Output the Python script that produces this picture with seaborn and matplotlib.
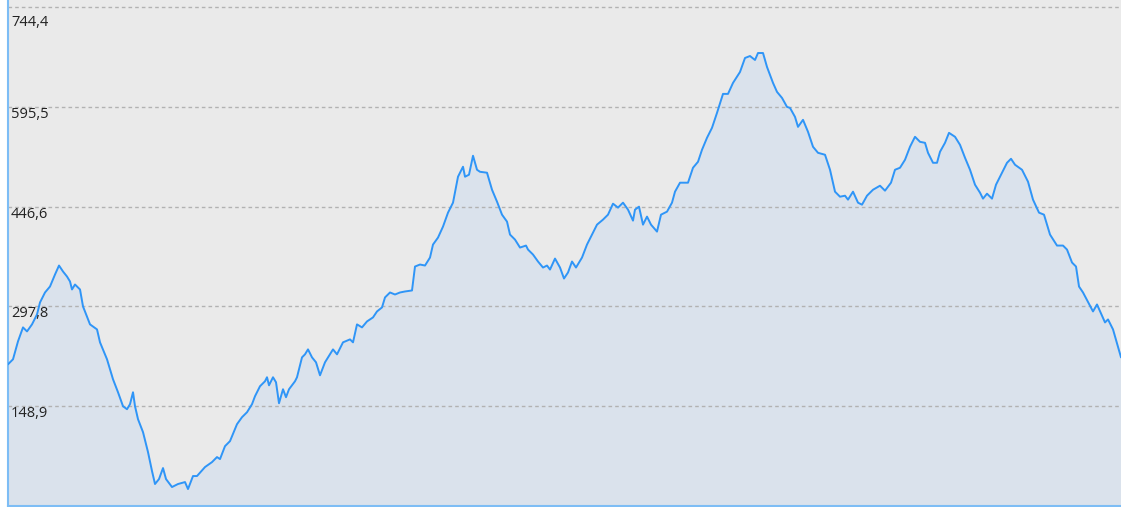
import matplotlib
matplotlib.use("Agg")
import matplotlib.pyplot as plt
import matplotlib.transforms as mtransforms
import pandas as pd
import seaborn as sns

# Data (x = sample step, y = value)
steps = [0, 5, 10, 15, 19, 24, 29, 32, 37, 42, 47, 51, 55, 59, 62, 64, 67, 72, 75, 82,
         89, 92, 99, 105, 110, 115, 119, 122, 125, 127, 130, 135, 140, 144, 147, 151, 155, 158, 164, 170,
         177, 180, 185, 189, 197, 204, 209, 212, 217, 222, 229, 234, 239, 244, 247, 252, 257, 259, 261, 265,
         268, 271, 275, 278, 281, 287, 289, 294, 297, 300, 304, 308, 312, 317, 325, 329, 335, 342, 345, 349,
         354, 359, 365, 369, 374, 377, 382, 387, 392, 397, 404, 407, 412, 417, 422, 425, 430, 435, 440, 445,
         450, 455, 457, 461, 465, 469, 472, 479, 484, 489, 494, 499, 502, 507, 512, 518, 520, 525, 530, 535,
         539, 542, 547, 552, 556, 560, 564, 568, 574, 579, 584, 589, 595, 600, 605, 610, 615, 620, 625, 627,
         631, 635, 639, 643, 649, 653, 659, 664, 667, 672, 680, 685, 690, 694, 699, 704, 709, 715, 720, 725,
         732, 737, 742, 747, 750, 755, 759, 765, 769, 774, 779, 782, 787, 790, 795, 800, 805, 810, 817, 822,
         827, 832, 837, 840, 845, 850, 854, 859, 865, 872, 877, 883, 887, 892, 897, 902, 907, 912, 917, 920,
         925, 929, 932, 937, 941, 947, 952, 957, 962, 967, 972, 975, 979, 984, 988, 994, 999, 1003, 1007, 1014,
         1020, 1025, 1031, 1036, 1042, 1049, 1055, 1059, 1064, 1068, 1071, 1075, 1085, 1089, 1097, 1100, 1105, 1113]

values = [211.4, 218.9, 245.7, 266.5, 260.5, 271.0, 285.8, 303.7, 318.6, 327.5,
          345.4, 358.8, 349.9, 342.4, 335.0, 323.1, 330.5, 323.1, 297.8, 271.0,
          263.5, 244.2, 218.9, 189.1, 169.7, 148.9, 144.4, 151.9, 169.7, 148.9,
          129.5, 110.2, 80.4, 52.1, 32.8, 40.2, 56.6, 40.2, 28.3, 32.8,
          35.7, 25.3, 44.7, 44.7, 58.1, 65.5, 73.0, 70.0, 89.3, 96.8,
          122.1, 132.5, 139.9, 151.9, 163.8, 178.7, 186.1, 192.1, 180.1, 192.1,
          184.6, 153.3, 174.2, 162.3, 174.2, 186.1, 192.1, 221.8, 226.3, 233.7,
          221.8, 214.4, 195.0, 214.4, 233.7, 226.3, 244.2, 248.6, 244.2, 271.0,
          266.5, 275.4, 281.4, 290.3, 296.3, 311.2, 318.6, 315.6, 318.6, 320.1,
          321.6, 357.3, 360.3, 358.8, 370.7, 390.1, 400.5, 416.9, 437.7, 452.6,
          491.3, 506.2, 491.3, 494.3, 522.6, 501.7, 498.7, 497.3, 471.9, 454.1,
          434.7, 424.3, 405.0, 397.5, 385.6, 388.6, 382.6, 375.2, 364.8, 355.8,
          358.8, 352.8, 369.2, 355.8, 339.4, 348.4, 364.8, 355.8, 370.7, 390.1,
          405.0, 419.8, 427.3, 434.7, 451.1, 445.2, 452.6, 442.2, 425.8, 442.2,
          446.6, 419.8, 431.8, 419.8, 409.4, 434.7, 439.2, 452.6, 469.0, 482.4,
          482.4, 504.7, 513.6, 531.5, 549.4, 564.3, 586.6, 614.9, 614.9, 631.3,
          647.6, 668.5, 671.4, 665.5, 675.9, 675.9, 655.1, 631.3, 617.9, 608.9,
          595.5, 594.0, 580.6, 565.7, 576.2, 558.3, 536.0, 527.0, 524.1, 501.7,
          469.0, 461.5, 463.0, 457.1, 469.0, 452.6, 449.6, 463.0, 471.9, 477.9,
          470.5, 482.4, 501.7, 504.7, 516.6, 536.0, 550.9, 543.4, 541.9, 527.0,
          512.1, 512.1, 528.5, 541.9, 556.8, 550.9, 538.9, 519.6, 501.7, 479.4,
          467.5, 458.6, 466.0, 458.6, 479.4, 497.3, 512.1, 518.1, 509.2, 501.7,
          483.9, 457.1, 437.7, 434.7, 405.0, 388.6, 388.6, 382.6, 363.3, 357.3,
          327.5, 318.6, 290.3, 300.7, 273.9, 278.4, 263.5, 221.8]

tick_values = [148.9, 297.8, 446.6, 595.5, 744.4]
tick_labels = ["148,9", "297,8", "446,6", "595,5", "744,4"]

df = pd.DataFrame({"step": steps, "value": values})

sns.set_style("white")
plt.rcParams["font.family"] = ["Open Sans", "DejaVu Sans"]

line_color = "#2F95F7"
fill_color = "#DAE2EC"

fig = plt.figure(figsize=(11.21, 5.07), dpi=100)
ax = fig.add_axes([8 / 1121, 1 / 507, 1113 / 1121, 506 / 507])
ax.set_facecolor("#EAEAEA")

# Area under the line
ax.fill_between(df["step"], df["value"], 0, color=fill_color, zorder=1)
sns.lineplot(data=df, x="step", y="value", ax=ax, color=line_color,
             linewidth=1.4, zorder=3)

ax.set_xlim(0, 1113)
ax.set_ylim(0, 755)

# Dashed gridlines with labels inside the plot
for val, lab in zip(tick_values, tick_labels):
    ax.axhline(val, color="#B2B2B2", linewidth=1, dashes=(2.6, 2.2), zorder=2)
    shift = -8 if val == tick_values[-1] else 0
    trans = mtransforms.offset_copy(ax.transData, fig=fig, x=3, y=shift, units="dots")
    ax.text(0, val, lab, transform=trans, ha="left", va="top",
            fontsize=10.5, color="#222222", zorder=4)

ax.set_xticks([])
ax.set_yticks([])
ax.set_xlabel("")
ax.set_ylabel("")

for side in ["top", "right"]:
    ax.spines[side].set_visible(False)
for side in ["left", "bottom"]:
    ax.spines[side].set_color("#7DBDF5")
    ax.spines[side].set_linewidth(1.5)

fig.savefig("out.png", dpi=100)
